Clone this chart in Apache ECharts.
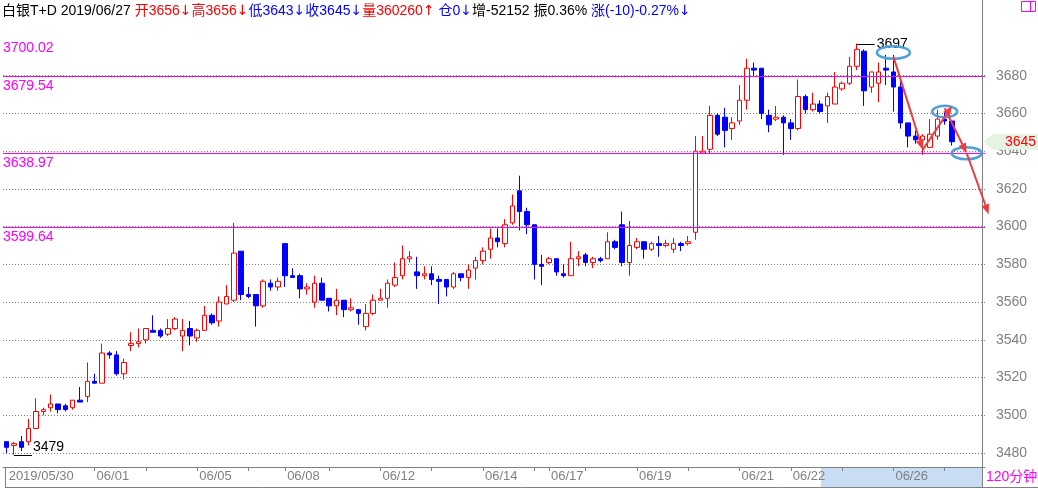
<!DOCTYPE html>
<html><head><meta charset="utf-8">
<script src="https://cdn.jsdelivr.net/npm/echarts@6/dist/echarts.min.js"></script>
<style>html,body{margin:0;padding:0;background:#fff}#c{width:1038px;height:488px}</style>
</head><body><div id="c"></div>
<script>
// ---- data (2-hour bars, 白银T+D) ----
const opens = [3486,3484,3486,3486,3493,3502,3504,3506,3505,3504,
3508,3510,3518,3517,3533,3532,3522,3537,3538,3540,
3545,3545,3543,3546,3542,3546,3541,3545,3553,3550,
3559,3561,3587,3564,3564,3558,3570,3568,3591,3574,
3574,3567,3560,3570,3562,3558,3561,3556,3556,3547,
3554,3561,3562,3569,3574,3583,3576,3574,3575,3572,
3572,3568,3575,3573,3578,3582,3588,3594,3591,3602,
3619,3608,3601,3580,3581,3583,3575,3574,3583,3585,
3581,3583,3583,3592,3601,3581,3589,3592,3588,3591,
3590,3588,3591,3591,3597,3639,3641,3659,3658,3652,
3656,3667,3684,3684,3659,3657,3658,3655,3652,3669,
3662,3665,3664,3665,3673,3676,3685,3693,3674,3676,
3684,3682,3674,3655,3648,3646,3642,3648,3657,3656];
const highs = [3486,3486,3489,3498,3509,3504,3511,3506,3506,3508,
3515,3528,3522,3538,3534,3534,3530,3544,3546,3546,
3553,3546,3551,3552,3551,3550,3546,3558,3554,3563,
3569,3602,3587,3568,3564,3572,3572,3573,3591,3578,
3575,3570,3574,3573,3562,3567,3561,3562,3556,3559,
3564,3567,3572,3581,3590,3587,3584,3579,3579,3574,
3572,3576,3575,3580,3584,3589,3599,3599,3604,3617,
3627,3610,3601,3585,3584,3583,3580,3592,3587,3586,
3584,3584,3597,3593,3608,3603,3594,3592,3592,3595,
3593,3594,3592,3595,3648,3648,3664,3660,3663,3658,
3675,3689,3687,3684,3662,3664,3659,3657,3678,3670,
3671,3667,3671,3682,3677,3690,3697,3694,3682,3687,
3691,3691,3679,3655,3651,3649,3657,3662,3661,3656];
const lows = [3480,3479,3481,3484,3493,3500,3502,3501,3502,3503,
3507,3507,3517,3517,3530,3521,3519,3534,3536,3538,
3544,3541,3542,3545,3534,3537,3539,3545,3548,3547,
3559,3560,3561,3562,3547,3557,3566,3566,3568,3573,
3562,3564,3557,3561,3555,3553,3552,3555,3548,3545,
3553,3561,3557,3568,3572,3581,3567,3572,3569,3559,
3563,3567,3571,3567,3572,3580,3583,3589,3589,3601,
3598,3596,3572,3569,3580,3574,3573,3574,3579,3579,
3578,3581,3583,3588,3579,3574,3588,3583,3587,3584,
3589,3586,3587,3590,3593,3639,3639,3648,3642,3646,
3654,3662,3680,3657,3650,3656,3638,3646,3651,3660,
3661,3660,3655,3665,3672,3675,3683,3664,3671,3666,
3675,3661,3652,3642,3644,3638,3642,3646,3654,3643];
const closes = [3483,3485,3483,3493,3502,3503,3506,3503,3503,3508,
3507,3518,3517,3533,3532,3522,3528,3538,3539,3546,
3544,3542,3546,3551,3545,3542,3545,3553,3549,3560,
3563,3586,3564,3563,3558,3571,3568,3571,3574,3573,
3567,3568,3570,3561,3558,3561,3556,3557,3554,3554,
3561,3562,3570,3573,3583,3584,3574,3575,3572,3571,
3568,3575,3573,3577,3582,3587,3594,3592,3601,3611,
3608,3601,3580,3579,3583,3576,3574,3583,3584,3581,
3583,3582,3592,3589,3581,3590,3592,3588,3591,3590,
3591,3591,3590,3592,3640,3640,3659,3649,3651,3655,
3667,3684,3683,3660,3654,3658,3655,3652,3669,3662,
3665,3661,3669,3674,3676,3685,3694,3672,3682,3682,
3683,3674,3655,3648,3646,3648,3649,3657,3656,3645];
const slotCount = 134;                       // bar slots on the axis (4 empty at right)
const tickIdx = [12,19,26,33,38,44,51,58,65,72,74,79,86,93,100,107,114,121,128];
const labelIdx = [0,12,26,38,51,65,74,86,100,107,121];
const labelText = ['2019/05/30','06/01','06/05','06/08','06/12','06/14','06/17','06/19','06/21','06/22','06/26'];
const levelLines = [3679.54,3638.97,3599.64];
const topLevel = 3700.02;                    // level label without a visible line
const headerInfo = {name:'白银T+D', date:'2019/06/27', vol:'360260', oi:'0', chg:'-52152', amp:'0.36%', up:'(-10)-0.27%'};
// annotation anchors [barIndex, price]
const ellipses = [[120.9,3692.3,16.5,6.3],[127.9,3661,12.5,5.7],[130.9,3638.9,15,6]];
const arrows = [[[121.0,3690.1],[125.0,3640.7]],[[125.1,3640.7],[128.6,3664]],[[128.3,3662.8],[131.0,3638.9]],[[131.0,3638.9],[134.0,3606.6]]];

const FONT = '"Liberation Sans","Noto Sans CJK SC",sans-serif';
const AFONT = '"DejaVu Sans",sans-serif';
const categories = Array.from({length: slotCount}, (_, i) => String(i));
const kdata = opens.map((o, i) => [o, closes[i], lows[i], highs[i]]);

const chart = echarts.init(document.getElementById('c'), null, {renderer: 'canvas'});
const option = {
  animation: false,
  backgroundColor: '#ffffff',
  grid: {left: 3, right: 53, top: 38, bottom: 35, containLabel: false},
  xAxis: {
    type: 'category', data: categories, boundaryGap: true, offset: 14,
    axisLine: {show: true, lineStyle: {color: '#808080', width: 1}},
    axisTick: {show: true, alignWithLabel: true, length: 4, lineStyle: {color: '#808080'},
      interval: (i) => tickIdx.includes(i)},
    axisLabel: {show: true, interval: (i) => labelIdx.includes(i),
      formatter: (v, i) => { const k = labelIdx.indexOf(i); return k >= 0 ? labelText[k] : ''; },
      align: 'left', padding: [0, 0, 0, 2], margin: 3, color: '#808080', fontSize: 13, fontFamily: FONT},
    splitLine: {show: false}
  },
  yAxis: {
    type: 'value', position: 'right', min: 3480, max: 3700, interval: 20, scale: true,
    axisLine: {show: false}, axisTick: {show: false},
    axisLabel: {color: '#808080', fontSize: 14, fontFamily: FONT, margin: 11, showMaxLabel: false,
      formatter: (v) => String(v)},
    splitLine: {show: true, showMaxLine: false, lineStyle: {color: '#808080', type: [1, 2], width: 1}}
  },
  series: [{
    type: 'candlestick', data: kdata, barWidth: 5, clip: false,
    itemStyle: {color: '#ffffff', color0: '#0000ff', borderColor: '#ff0000', borderColor0: '#0000ff', borderWidth: 1},
    markLine: {
      symbol: 'none', silent: true, animation: false,
      data: levelLines.map((v) => ({
        yAxis: v,
        lineStyle: {color: '#ff00ff', width: 1, type: 'solid'},
        label: {show: true, position: 'insideStartBottom', formatter: v.toFixed(2), color: '#ff00ff',
          fontSize: 14, fontFamily: FONT, distance: [0, 3]}
      }))
    }
  }]
};
chart.setOption(option);

function px(i, v) { return chart.convertToPixel({gridIndex: 0}, [i, v]); }
function arrowEls(a, b, color) {
  const dx = b[0] - a[0], dy = b[1] - a[1], L = Math.hypot(dx, dy), ux = dx / L, uy = dy / L;
  const hl = 10, hw = 4;
  const base = [b[0] - ux * hl, b[1] - uy * hl];
  return [
    {type: 'line', shape: {x1: a[0], y1: a[1], x2: base[0], y2: base[1]}, style: {stroke: color, lineWidth: 2}, z: 100},
    {type: 'polygon', shape: {points: [b, [base[0] - uy * hw, base[1] + ux * hw], [base[0] + uy * hw, base[1] - ux * hw]]},
      style: {fill: color}, z: 100}
  ];
}

const g = [];
const axisX = 982;
// frame pieces
g.push({type: 'line', shape: {x1: axisX + 0.5, y1: 0, x2: axisX + 0.5, y2: 488}, style: {stroke: '#808080', lineWidth: 1}, z: 50});
g.push({type: 'line', shape: {x1: 5, y1: 487.5, x2: 1038, y2: 487.5}, style: {stroke: '#808080', lineWidth: 1}, z: 50});
g.push({type: 'line', shape: {x1: 5.5, y1: 467, x2: 5.5, y2: 488}, style: {stroke: '#808080', lineWidth: 1}, z: 50});
g.push({type: 'rect', shape: {x: 821, y: 468, width: axisX - 821, height: 19}, style: {fill: '#c8ddf3'}, z: -1});
g.push({type: 'text', x: 986, y: 477, style: {text: '120分钟', fill: '#ff00ff', font: '14px ' + FONT, verticalAlign: 'middle'}, z: 60});
// top-right icon
g.push({type: 'rect', shape: {x: 1021.5, y: 1.5, width: 14, height: 10}, style: {fill: 'none', stroke: '#ff00ff', lineWidth: 1}, z: 60});
g.push({type: 'line', shape: {x1: 1030.5, y1: 1.5, x2: 1030.5, y2: 11.5}, style: {stroke: '#ff00ff', lineWidth: 1}, z: 60});
// top level label (line itself not visible)
const pTop = px(0, topLevel);
g.push({type: 'text', x: 3, y: pTop[1] + 3, style: {text: topLevel.toFixed(2), fill: '#ff00ff', font: '14px ' + FONT, verticalAlign: 'top'}, z: 60});
// header
const n = opens.length - 1;
const dn = (s) => '{' + s + 'a|↓}', upA = (s) => '{' + s + 'a|↑}';
g.push({type: 'text', x: 2, y: 11, z: 60, style: {
  text: '{k|' + headerInfo.name + ' ' + headerInfo.date + ' }{r|开' + opens[n] + '}' + dn('r') + '{r|高' + highs[n] + '}' + dn('r') +
        '{b|低' + lows[n] + '}' + dn('b') + '{b|收' + closes[n] + '}' + dn('b') + '{r|量' + headerInfo.vol + '}' + upA('r') +
        '{k| }{b|仓' + headerInfo.oi + '}' + dn('b') + '{k|增' + headerInfo.chg + ' 振' + headerInfo.amp + ' }{b|涨' + headerInfo.up + '}' + dn('b'),
  verticalAlign: 'middle', font: '14px ' + FONT,
  rich: {k: {fill: '#000000', fontSize: 14, fontFamily: FONT}, r: {fill: '#ff0000', fontSize: 14, fontFamily: FONT}, b: {fill: '#0000ff', fontSize: 14, fontFamily: FONT},
         ra: {fill: '#ff0000', fontSize: 14, fontFamily: AFONT}, ba: {fill: '#0000ff', fontSize: 14, fontFamily: AFONT}}
}});
// high / low marks
let hiI = 0, loI = 0;
highs.forEach((h, i) => { if (h > highs[hiI]) hiI = i; });
lows.forEach((l, i) => { if (l < lows[loI]) loI = i; });
const ph = px(hiI, highs[hiI]), pl = px(loI, lows[loI]);
g.push({type: 'line', shape: {x1: ph[0], y1: Math.round(ph[1]) + 0.5, x2: ph[0] + 18, y2: Math.round(ph[1]) + 0.5}, style: {stroke: '#000', lineWidth: 1}, z: 60});
g.push({type: 'text', x: ph[0] + 20, y: ph[1], style: {text: String(highs[hiI]), fill: '#000', font: '14px ' + FONT, verticalAlign: 'middle'}, z: 60});
g.push({type: 'line', shape: {x1: pl[0], y1: Math.round(pl[1]) + 0.5, x2: pl[0] + 18, y2: Math.round(pl[1]) + 0.5}, style: {stroke: '#000', lineWidth: 1}, z: 60});
g.push({type: 'text', x: pl[0] + 19, y: pl[1] - 1, style: {text: String(lows[loI]), fill: '#000', font: '14px ' + FONT, verticalAlign: 'bottom'}, z: 60});
// last price tag
const pc = px(n, closes[n]);
const ty = pc[1];
g.push({type: 'polygon', shape: {points: [[axisX + 1, ty], [axisX + 11, ty - 8], [1038, ty - 8], [1038, ty + 8], [axisX + 11, ty + 8]]}, style: {fill: '#e6f2e4'}, z: 70});
g.push({type: 'text', x: 1005, y: ty, style: {text: String(closes[n]), fill: '#ff0000', font: '14px ' + FONT, verticalAlign: 'middle'}, z: 71});
// annotations
ellipses.forEach(e => { const p = px(e[0], e[1]); g.push({type: 'ellipse', shape: {cx: p[0], cy: p[1], rx: e[2], ry: e[3]}, style: {fill: 'none', stroke: '#4f9fdc', lineWidth: 2.5}, z: 90}); });
arrows.forEach(a => { arrowEls(px(a[0][0], a[0][1]), px(a[1][0], a[1][1]), '#f03c3c').forEach(el => g.push(el)); });

chart.setOption({graphic: {elements: g}});
</script>
</body></html>
